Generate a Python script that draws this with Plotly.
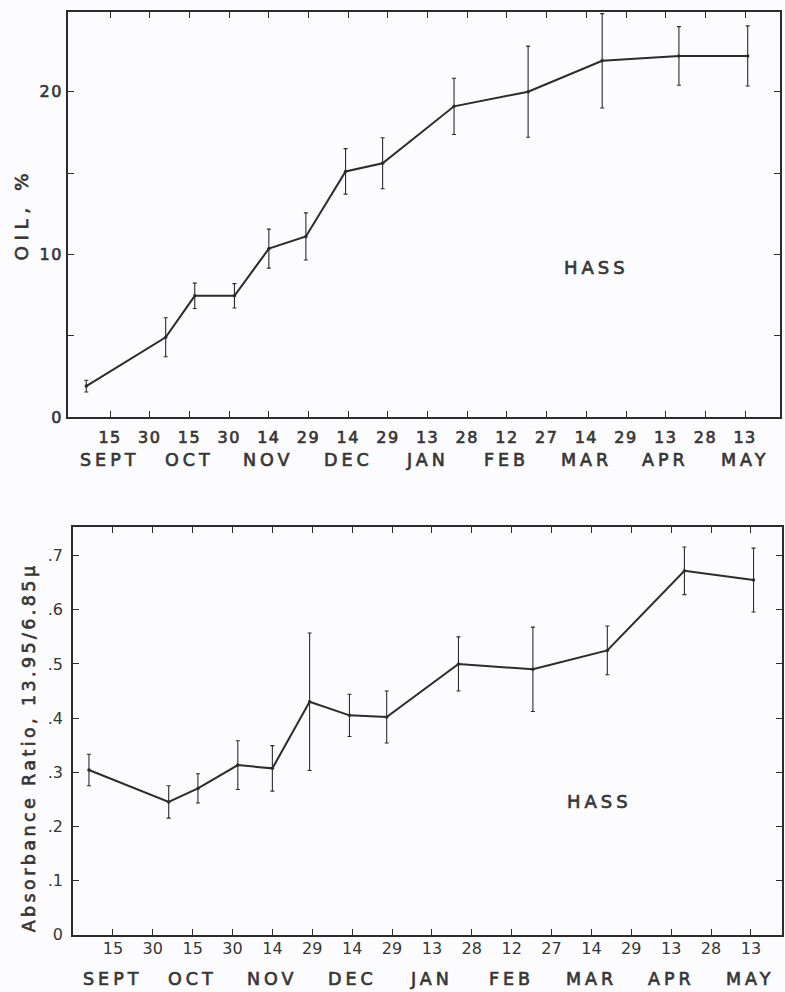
import pandas as pd
import plotly.graph_objects as go

# ---- data -------------------------------------------------------------
# sampling dates over one season (Sept -> May)
sample_dates = ["Sep 6", "Oct 6", "Oct 17", "Nov 1", "Nov 14", "Nov 28", "Dec 13",
                "Dec 27", "Jan 23", "Feb 20", "Mar 20", "Apr 18", "May 14"]

# oil content, % (mean and +/- spread)
oil_pct = [1.9, 4.9, 7.45, 7.45, 10.35, 11.1, 15.1, 15.6, 19.1, 20.0, 21.9, 22.2, 22.2]
oil_err = [0.36, 1.2, 0.78, 0.75, 1.2, 1.45, 1.4, 1.57, 1.73, 2.8, 2.9, 1.8, 1.85]

# absorbance ratio 13.95 / 6.85 micron (mean and +/- spread)
abs_ratio = [0.304, 0.245, 0.270, 0.313, 0.307, 0.430, 0.405, 0.402,
             0.500, 0.490, 0.525, 0.672, 0.655]
abs_err = [0.029, 0.030, 0.027, 0.045, 0.042, 0.127, 0.039, 0.048,
           0.050, 0.078, 0.045, 0.044, 0.059]

# x-axis ticks every 15 days
tick_dates = ["Sep 15", "Sep 30", "Oct 15", "Oct 30", "Nov 14", "Nov 29", "Dec 14",
              "Dec 29", "Jan 13", "Jan 28", "Feb 12", "Feb 27", "Mar 14", "Mar 29",
              "Apr 13", "Apr 28", "May 13"]
tick_text = ["15", "30", "15", "30", "14", "29", "14", "29", "13", "28", "12", "27",
             "14", "29", "13", "28", "13"]

month_labels = ["SEPT", "OCT", "NOV", "DEC", "JAN", "FEB", "MAR", "APR", "MAY"]
month_label_dates = ["Sep 15", "Oct 15", "Nov 14", "Dec 14", "Jan 13", "Feb 12",
                     "Mar 14", "Apr 13", "May 13"]

oil_ticks = [0, 5, 10, 15, 20]
oil_tick_text = ["0", "", "10", "", "20"]
ratio_ticks = [0, 0.1, 0.2, 0.3, 0.4, 0.5, 0.6, 0.7]
ratio_tick_text = ["0", ".1", ".2", ".3", ".4", ".5", ".6", ".7"]

SEASON_START = 1965  # Sept-Dec fall in this year, Jan-May in the next


def to_date(s):
    d = pd.to_datetime(f"{s} 2000", format="%b %d %Y")
    year = SEASON_START if d.month >= 8 else SEASON_START + 1
    return pd.Timestamp(year=year, month=d.month, day=d.day)


x_samples = [to_date(s) for s in sample_dates]
x_ticks = [to_date(s) for s in tick_dates]
x_months = [to_date(s) for s in month_label_dates]

# ---- styling ----------------------------------------------------------
INK = "#2c2c2c"
TEXT = "#363636"
FONT = "DejaVu Sans"
BG = "#fcfbfd"
W, H = 785, 992


def px_x(p):
    return p / W


def px_y(p):
    return 1 - p / H


def series(x, y, err, xa, ya):
    return go.Scatter(
        x=x, y=y, xaxis=xa, yaxis=ya, mode="lines+markers",
        line=dict(color=INK, width=2),
        marker=dict(color=INK, size=3.5),
        error_y=dict(type="data", array=err, visible=True,
                     color=INK, thickness=1.1, width=2),
        showlegend=False, hoverinfo="x+y",
    )


fig = go.Figure()
fig.add_trace(series(x_samples, oil_pct, oil_err, "x", "y"))
fig.add_trace(series(x_samples, abs_ratio, abs_err, "x2", "y2"))

common = dict(
    showline=True, linewidth=1.8, linecolor=INK, mirror="ticks",
    ticks="inside", ticklen=6, tickwidth=1.4, tickcolor=INK,
    showgrid=False, zeroline=False, automargin=False,
    tickfont=dict(family=FONT, size=16, color=TEXT),
)

xaxis_top = dict(common, type="date", anchor="y",
                 domain=[px_x(68), px_x(780)],
                 range=["1965-08-30 02:00", "1966-05-26 05:00"],
                 tickmode="array", tickvals=x_ticks, ticktext=tick_text,
                 ticklabelstandoff=5)
yaxis_top = dict(common, anchor="x", domain=[px_y(417), px_y(12)],
                 range=[0, 24.9], tickmode="array",
                 tickvals=oil_ticks, ticktext=oil_tick_text)
xaxis_bot = dict(common, type="date", anchor="y2",
                 domain=[px_x(73), px_x(782)],
                 range=["1965-08-31 00:00", "1966-05-24 17:00"],
                 tickmode="array", tickvals=x_ticks, ticktext=tick_text,
                 ticklabelstandoff=-2)
yaxis_bot = dict(common, anchor="x2", domain=[px_y(934.5), px_y(527)],
                 range=[0, 0.753], tickmode="array",
                 tickvals=ratio_ticks, ticktext=ratio_tick_text,
                 ticklabelstandoff=5)

title_font = dict(family=FONT, size=17.5, color=TEXT)
annotations = [
    dict(text="Absorbance Ratio, 13.95/6.85\u03bc", xref="paper", yref="paper",
         x=px_x(29), y=px_y(748), xanchor="center", yanchor="middle",
         textangle=-90, showarrow=False, font=title_font),
    dict(text="OIL, %", xref="paper", yref="paper",
         x=px_x(22), y=px_y(214), xanchor="center", yanchor="middle",
         textangle=-90, showarrow=False,
         font=dict(family=FONT, size=18.5, color=TEXT)),
    dict(text="HASS", xref="x", yref="y", x=to_date("Mar 18"), y=9.2,
         xanchor="center", yanchor="middle", showarrow=False,
         font=dict(family=FONT, size=18, color=TEXT)),
    dict(text="HASS", xref="x2", yref="y2", x=to_date("Mar 17"), y=0.246,
         xanchor="center", yanchor="middle", showarrow=False,
         font=dict(family=FONT, size=18, color=TEXT)),
]
for lbl, d in zip(month_labels, x_months):
    annotations.append(dict(text=lbl, xref="x", yref="y", x=d, y=0,
                            xanchor="center", yanchor="middle", yshift=-43,
                            showarrow=False, font=title_font))
    annotations.append(dict(text=lbl, xref="x2", yref="y2", x=d, y=0,
                            xanchor="center", yanchor="middle", yshift=-44,
                            showarrow=False, font=title_font))

fig.update_layout(
    width=W, height=H, margin=dict(l=0, r=0, t=0, b=0),
    paper_bgcolor=BG, plot_bgcolor=BG,
    xaxis=xaxis_top, yaxis=yaxis_top, xaxis2=xaxis_bot, yaxis2=yaxis_bot,
    annotations=annotations, showlegend=False,
)

# widen and slightly embolden the lettering, like stencilled drafting text
spacing_css = (
    "var s=document.createElement('style');"
    "s.textContent='.xtick text,.ytick text{letter-spacing:1.5px;stroke:#363636;stroke-width:0.65px}"
    ".annotation-text{letter-spacing:4px;stroke:#363636;stroke-width:0.65px}"
    ".annotation[data-index=\"1\"] .annotation-text{letter-spacing:5.5px}"
    ".annotation[data-index=\"0\"] .annotation-text{letter-spacing:3.4px}';"
    "document.head.appendChild(s);"
)

fig.write_html("out.html", post_script=spacing_css)
